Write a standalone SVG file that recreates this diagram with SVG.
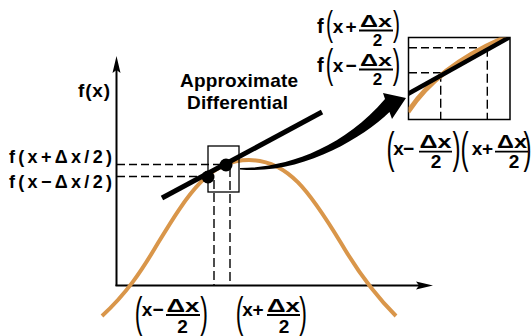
<svg xmlns="http://www.w3.org/2000/svg" width="531" height="336" viewBox="0 0 531 336">
<style>
.t{font-family:"Liberation Sans",Arial,sans-serif;font-weight:bold;fill:#000}
.m{font-family:"Liberation Sans",Arial,sans-serif;font-weight:bold;fill:#000;font-size:19px;text-anchor:middle}
.s{font-size:17px}
.p{font-family:"Liberation Sans",Arial,sans-serif;font-weight:normal;fill:#000;text-anchor:middle}
.ax{stroke:#000;stroke-width:2;fill:none}
.dash{stroke:#000;stroke-width:1.4;stroke-dasharray:8 4;fill:none}
.vdash{stroke:#000;stroke-width:1.4;stroke-dasharray:9 4;fill:none}
.curve{stroke:#D9964A;stroke-width:4;fill:none}
.bar{stroke:#000;stroke-width:1.8}
.box{fill:none;stroke:#000;stroke-width:1.3}
</style>
<defs>
<clipPath id="insetClip"><rect x="408.5" y="37.5" width="101.5" height="82"/></clipPath>
</defs>
<rect width="531" height="336" fill="#fff"/>

<g id="axes">
<line class="ax" x1="116.5" y1="286" x2="116.5" y2="66"/>
<polygon points="116.5,56 112.5,73 116.5,70 120.5,73" fill="#000"/>
<line class="ax" x1="115.5" y1="285.5" x2="425" y2="285.5"/>
<polygon points="433,285.5 416,281.5 419,285.5 416,289.5" fill="#000"/>
</g>

<g id="guides">
<line class="dash" x1="117" y1="164.5" x2="222" y2="164.5"/>
<line class="dash" x1="117" y1="176.5" x2="206" y2="176.5"/>
<line class="vdash" x1="214" y1="180" x2="214" y2="285"/>
<line class="vdash" x1="230" y1="168" x2="230" y2="285"/>
</g>

<g id="function-curve">
<path class="curve" d="M102,316 C126,294 141,272 158,243 C189,192 210,160 249,160 C288,160 310,192 341,243 C358,272 374,294 396,316"/>
</g>

<g id="zoom-box">
<rect class="box" x="208" y="146" width="31" height="46"/>
</g>

<g id="tangent">
<line x1="162" y1="198" x2="322" y2="112" stroke="#000" stroke-width="5"/>
<circle cx="208" cy="177" r="6.5" fill="#000"/>
<circle cx="226" cy="165" r="6.5" fill="#000"/>
</g>

<g id="connectors">
<path d="M240,168 C280,168 340,152 385,99 L383,93 L406,98 L392,119 L389.5,112 C360,140 300,175 240,169.5 Z" fill="#000"/>
</g>

<g id="inset">
<rect x="408.5" y="37.5" width="101.5" height="82" fill="#fff" stroke="#000" stroke-width="1.5"/>
<g clip-path="url(#insetClip)">
<line class="dash" x1="409" y1="47.7" x2="487.3" y2="47.7"/>
<line class="vdash" x1="487.3" y1="47.7" x2="487.3" y2="119.5"/>
<line class="dash" x1="409" y1="72.7" x2="440.7" y2="72.7"/>
<line class="vdash" x1="440.7" y1="72.7" x2="440.7" y2="119.5"/>
<path d="M408,112 Q438,66 506,37" stroke="#D9964A" stroke-width="5" fill="none"/>
<line x1="406" y1="95" x2="510" y2="37" stroke="#000" stroke-width="4.5"/>
</g>
</g>

<g id="label-fx">
<text class="t" x="78" y="97" font-size="19" textLength="32" lengthAdjust="spacing">f(x)</text>
</g>
<g id="label-title">
<text class="t" x="180" y="86.5" font-size="19" textLength="118" lengthAdjust="spacing">Approximate</text>
<text class="t" x="187" y="108.5" font-size="19" textLength="101" lengthAdjust="spacing">Differential</text>
</g>
<g id="label-left">
<text class="t" x="9" y="163" font-size="18" textLength="103" lengthAdjust="spacing">f(x+Δx/2)</text>
<text class="t" x="9" y="188" font-size="18" textLength="103" lengthAdjust="spacing">f(x−Δx/2)</text>
</g>

<g id="label-bottom-minus">
<text class="p" font-size="42" transform="translate(138.5,327) scale(0.55,1)">(</text>
<text class="m" x="147" y="316">x</text>
<text class="m" x="158" y="316">−</text>
<text class="m" x="183" y="311.5" textLength="33" lengthAdjust="spacingAndGlyphs">Δx</text>
<line class="bar" x1="166" y1="315" x2="200" y2="315"/>
<text class="m" x="182.5" y="332.5">2</text>
<text class="p" font-size="42" transform="translate(204,327) scale(0.55,1)">)</text>
</g>
<g id="label-bottom-plus">
<text class="p" font-size="42" transform="translate(239.5,327) scale(0.55,1)">(</text>
<text class="m" x="247.5" y="316">x</text>
<text class="m" x="258" y="316">+</text>
<text class="m" x="283.5" y="311.5" textLength="33" lengthAdjust="spacingAndGlyphs">Δx</text>
<line class="bar" x1="267" y1="315" x2="300" y2="315"/>
<text class="m" x="284" y="332.5">2</text>
<text class="p" font-size="42" transform="translate(303,327) scale(0.55,1)">)</text>
</g>

<g id="label-top-plus">
<text class="t" x="317" y="33" font-size="20">f</text>
<text class="p" font-size="35" transform="translate(329.5,35.6) scale(0.6,1)">(</text>
<text class="m" x="338" y="33">x</text>
<text class="m" x="351" y="33">+</text>
<text class="m s" x="376" y="27" textLength="32" lengthAdjust="spacingAndGlyphs">Δx</text>
<line class="bar" x1="359" y1="30.5" x2="393" y2="30.5"/>
<text class="m s" x="377.5" y="46">2</text>
<text class="p" font-size="35" transform="translate(396.5,35.6) scale(0.6,1)">)</text>
</g>
<g id="label-top-minus">
<text class="t" x="317" y="72" font-size="20">f</text>
<text class="p" font-size="41" transform="translate(329.5,78.4) scale(0.55,1)">(</text>
<text class="m" x="338" y="72">x</text>
<text class="m" x="351" y="72">−</text>
<text class="m s" x="376" y="66" textLength="32" lengthAdjust="spacingAndGlyphs">Δx</text>
<line class="bar" x1="359" y1="69.5" x2="393" y2="69.5"/>
<text class="m s" x="377.5" y="85">2</text>
<text class="p" font-size="41" transform="translate(396.5,78.4) scale(0.55,1)">)</text>
</g>

<g id="label-inset-minus">
<text class="p" font-size="44" transform="translate(390.5,162.8) scale(0.55,1)">(</text>
<text class="m" x="398.5" y="155">x</text>
<text class="m" x="408.5" y="155">−</text>
<text class="m" x="435.5" y="148" textLength="32" lengthAdjust="spacingAndGlyphs">Δx</text>
<line class="bar" x1="419" y1="151.7" x2="452" y2="151.7"/>
<text class="m" x="436" y="168">2</text>
<text class="p" font-size="44" transform="translate(456.5,162.8) scale(0.55,1)">)</text>
</g>
<g id="label-inset-plus">
<text class="p" font-size="44" transform="translate(464.5,162.8) scale(0.55,1)">(</text>
<text class="m" x="477" y="155">x</text>
<text class="m" x="487.5" y="155">+</text>
<text class="m" x="512" y="148" textLength="30" lengthAdjust="spacingAndGlyphs">Δx</text>
<line class="bar" x1="495" y1="151.7" x2="528" y2="151.7"/>
<text class="m" x="514" y="168">2</text>
<text class="p" font-size="44" transform="translate(527.5,162.8) scale(0.55,1)">)</text>
</g>
</svg>
